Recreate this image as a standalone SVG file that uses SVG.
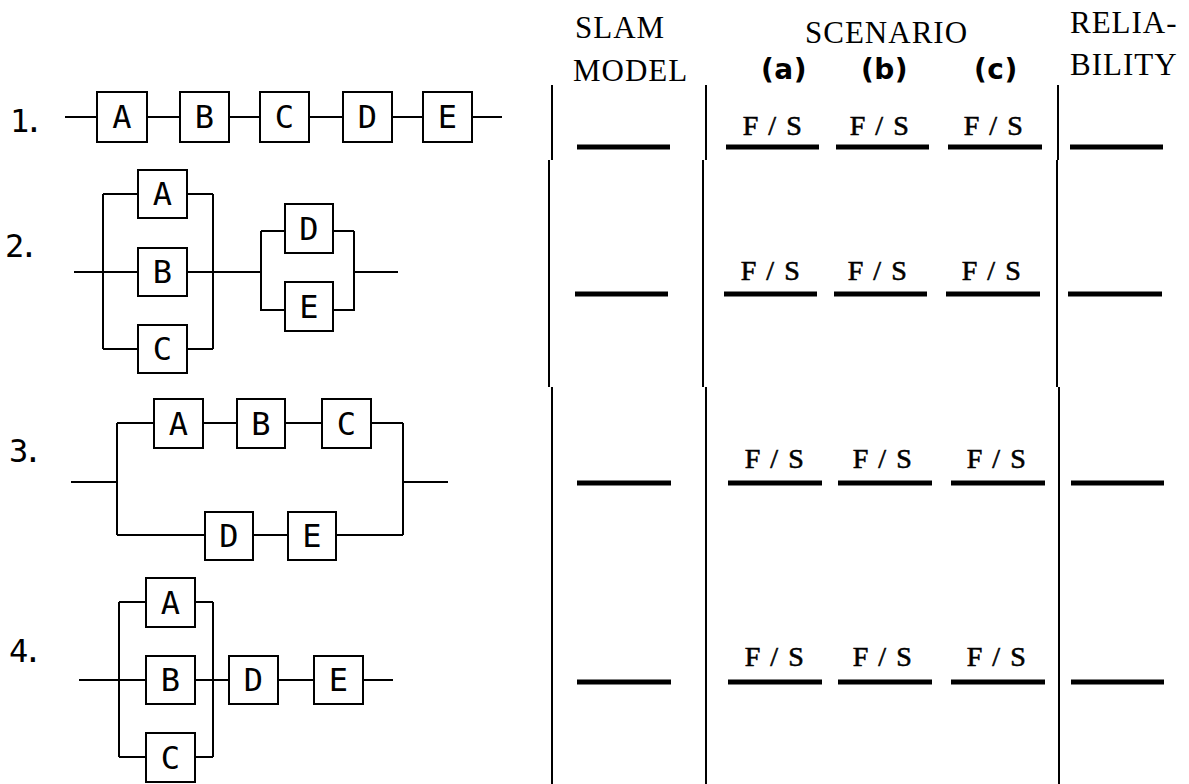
<svg xmlns="http://www.w3.org/2000/svg" width="1189" height="784" viewBox="0 0 1189 784">
<style>
.box{fill:#fff;stroke:#000;stroke-width:2}
.lbl{font-family:"DejaVu Sans Mono","Liberation Mono",monospace;font-size:32px;fill:#000;text-anchor:middle}
.num{font-family:"DejaVu Sans Mono","Liberation Mono",monospace;font-size:32px;fill:#000;letter-spacing:-5px}
.w{fill:none;stroke:#000;stroke-width:2}
.hd{font-family:"Liberation Serif",serif;font-size:31px;fill:#000;letter-spacing:1px}
.sc{font-family:"DejaVu Sans","Liberation Sans",sans-serif;font-weight:bold;font-size:28px;fill:#000;letter-spacing:0.5px}
.fs{font-family:"Liberation Serif",serif;font-size:28px;fill:#000;stroke:#000;stroke-width:0.6;text-anchor:middle;letter-spacing:1.5px}
.ul{stroke:#000;stroke-width:5}
.vl{stroke:#000;stroke-width:2}
</style>
<rect width="1189" height="784" fill="#fff"/>

<!-- Row numbers -->
<g id="labels">
<text class="num" x="10" y="132">1.</text>
<text class="num" x="5" y="257">2.</text>
<text class="num" x="9" y="462">3.</text>
<text class="num" x="9" y="662">4.</text>
</g>

<!-- Connectors -->
<g id="connectors" class="w">
<path d="M65 117H97M147 117H180M229 117H260M309 117H343M392 117H423M472 117H502"/>
<path d="M74 272H138M187 272H261M103 194V349M213 194V349M103 194H138M187 194H213M103 349H138M187 349H213"/>
<path d="M261 231V311M354 231V311M261 231H285M333 231H354M261 310H285M333 310H354M354 272H398"/>
<path d="M71 482H117M117 423V535M403 423V535M403 482H448"/>
<path d="M117 423H154M203 423H237M285 423H322M371 423H403"/>
<path d="M117 535H205M253 535H288M336 535H403"/>
<path d="M79 680H146M195 680H229M119 602V757M213 602V757M119 602H146M195 602H213M119 757H146M195 757H213M278 680H314M363 680H393"/>
</g>

<!-- Row 1 nodes -->
<g id="r1-A"><rect class="box" x="97" y="92" width="50" height="50"/><text class="lbl" x="122" y="128">A</text></g>
<g id="r1-B"><rect class="box" x="180" y="92" width="49" height="50"/><text class="lbl" x="204.5" y="128">B</text></g>
<g id="r1-C"><rect class="box" x="260" y="92" width="49" height="50"/><text class="lbl" x="284.5" y="128">C</text></g>
<g id="r1-D"><rect class="box" x="343" y="92" width="49" height="50"/><text class="lbl" x="367.5" y="128">D</text></g>
<g id="r1-E"><rect class="box" x="423" y="92" width="49" height="50"/><text class="lbl" x="447.5" y="128">E</text></g>

<!-- Row 2 nodes -->
<g id="r2-A"><rect class="box" x="138" y="170" width="49" height="48"/><text class="lbl" x="162.5" y="205">A</text></g>
<g id="r2-B"><rect class="box" x="138" y="248" width="49" height="48"/><text class="lbl" x="162.5" y="283">B</text></g>
<g id="r2-C"><rect class="box" x="138" y="325" width="49" height="48"/><text class="lbl" x="162.5" y="360">C</text></g>
<g id="r2-D"><rect class="box" x="285" y="204" width="48" height="49"/><text class="lbl" x="309" y="240">D</text></g>
<g id="r2-E"><rect class="box" x="285" y="282" width="48" height="49"/><text class="lbl" x="309" y="318">E</text></g>

<!-- Row 3 nodes -->
<g id="r3-A"><rect class="box" x="154" y="399" width="49" height="49"/><text class="lbl" x="178.5" y="435">A</text></g>
<g id="r3-B"><rect class="box" x="237" y="399" width="48" height="49"/><text class="lbl" x="261" y="435">B</text></g>
<g id="r3-C"><rect class="box" x="322" y="399" width="49" height="49"/><text class="lbl" x="346.5" y="435">C</text></g>
<g id="r3-D"><rect class="box" x="205" y="512" width="48" height="48"/><text class="lbl" x="229" y="547">D</text></g>
<g id="r3-E"><rect class="box" x="288" y="512" width="48" height="48"/><text class="lbl" x="312" y="547">E</text></g>

<!-- Row 4 nodes -->
<g id="r4-A"><rect class="box" x="146" y="578" width="49" height="49"/><text class="lbl" x="170.5" y="614">A</text></g>
<g id="r4-B"><rect class="box" x="146" y="656" width="49" height="48"/><text class="lbl" x="170.5" y="691">B</text></g>
<g id="r4-C"><rect class="box" x="146" y="733" width="49" height="49"/><text class="lbl" x="170.5" y="769">C</text></g>
<g id="r4-D"><rect class="box" x="229" y="656" width="49" height="48"/><text class="lbl" x="253.5" y="691">D</text></g>
<g id="r4-E"><rect class="box" x="314" y="656" width="49" height="48"/><text class="lbl" x="338.5" y="691">E</text></g>

<!-- Table headers -->
<g id="headers">
<text class="hd" x="575" y="38">SLAM</text>
<text class="hd" x="573" y="81">MODEL</text>
<text class="hd" x="805" y="43">SCENARIO</text>
<text class="hd" x="1070" y="33">RELIA-</text>
<text class="hd" x="1070" y="75">BILITY</text>
<text class="sc" x="761" y="79">(a)</text>
<text class="sc" x="861" y="79">(b)</text>
<text class="sc" x="974" y="79">(c)</text>
</g>

<!-- Table rules -->
<g id="table">
<path class="vl" d="M552 85V160M549 160V387M552 387V784"/>
<path class="vl" d="M706 85V160M703 160V387M706 387V784"/>
<path class="vl" d="M1058 85V160M1057 160V387M1059 387V784"/>
<path class="ul" d="M577 147H670M726 147H819M836 147H929M948 147H1042M1070 147H1163"/>
<path class="ul" d="M575 294H668M724 294H817M834 294H927M946 294H1040M1068 294H1162"/>
<path class="ul" d="M577 483H671M728 483H822M838 483H932M951 483H1045M1071 483H1164"/>
<path class="ul" d="M577 682H671M728 682H822M838 682H932M951 682H1045M1071 682H1164"/>
</g>

<!-- F / S entries -->
<g id="answers">
<text class="fs" x="773" y="135">F / S</text>
<text class="fs" x="880" y="135">F / S</text>
<text class="fs" x="994" y="135">F / S</text>
<text class="fs" x="771" y="280">F / S</text>
<text class="fs" x="878" y="280">F / S</text>
<text class="fs" x="992" y="280">F / S</text>
<text class="fs" x="775" y="468">F / S</text>
<text class="fs" x="883" y="468">F / S</text>
<text class="fs" x="997" y="468">F / S</text>
<text class="fs" x="775" y="666">F / S</text>
<text class="fs" x="883" y="666">F / S</text>
<text class="fs" x="997" y="666">F / S</text>
</g>
</svg>
